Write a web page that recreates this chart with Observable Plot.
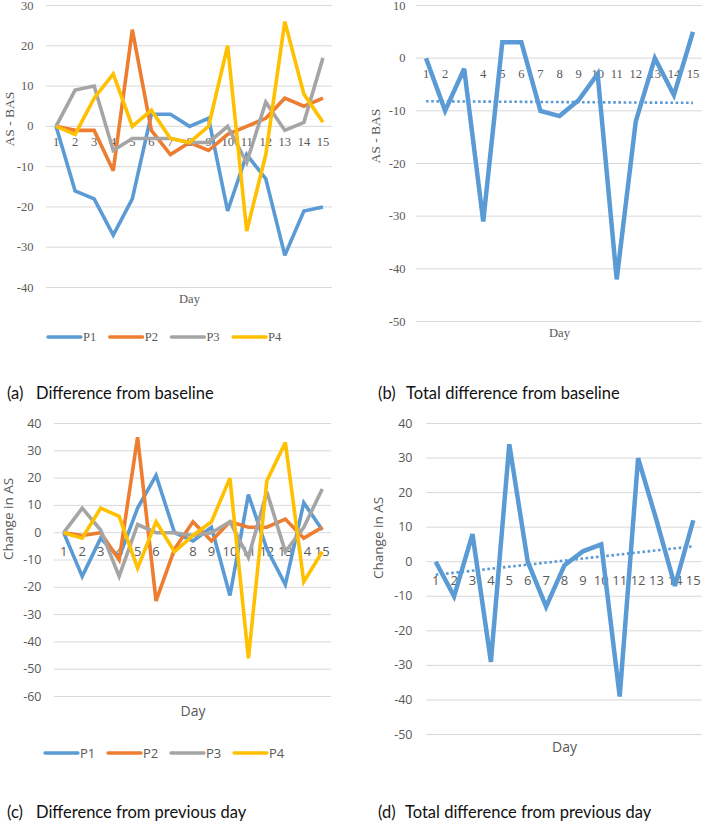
<!DOCTYPE html>
<html><head><meta charset="utf-8">
<script src="https://cdn.jsdelivr.net/npm/d3@7"></script>
<script src="https://cdn.jsdelivr.net/npm/@observablehq/plot@0.6"></script>
<style>
html,body{margin:0;padding:0;background:#fff;}
#root{position:relative;width:709px;height:822px;overflow:hidden;background:#fff;}
#root > svg{position:absolute;}
</style></head><body><div id="root"></div>
<script>
// ---- data ----
const days = [1,2,3,4,5,6,7,8,9,10,11,12,13,14,15];
const seriesNames = ["P1","P2","P3","P4"];
const seriesColors = ["#5B9BD5","#ED7D31","#A5A5A5","#FFC000"];

// (a) difference from baseline (AS - BAS)
const baseP1 = [0,-16,-18,-27,-18,3,3,0,2,-21,-7,-13,-32,-21,-20];
const baseP2 = [0,-1,-1,-11,24,-1,-7,-4,-6,-2,0,2,7,5,7];
const baseP3 = [0,9,10,-6,-3,-3,-3,-4,-4,0,-9,6,-1,1,17];
const baseP4 = [0,-2,7,13,0,4,-3,-4,0,20,-26,-7,26,8,1];
// (b) total difference from baseline
const baseTotal = [0,-10,-2,-31,3,3,-10,-11,-8,-3,-42,-12,0,-7,5];
// (c) difference from previous day
const prevP1 = [0,-16,-2,-9,9,21,0,-3,2,-23,14,-6,-19,11,1];
const prevP2 = [0,-1,0,-10,35,-25,-6,4,-3,4,2,2,5,-2,2];
const prevP3 = [0,9,1,-16,3,0,0,-1,0,4,-9,15,-7,2,16];
const prevP4 = [0,-2,9,6,-13,4,-7,-1,4,20,-46,19,33,-18,-7];
// (d) total difference from previous day
const prevTotal = [0,-10,8,-29,34,0,-13,-1,3,5,-39,30,12,-7,12];

const ticksA = [-40,-30,-20,-10,0,10,20,30];
const ticksB = [-50,-40,-30,-20,-10,0,10];
const ticksC = [-60,-50,-40,-30,-20,-10,0,10,20,30,40];
const ticksD = [-50,-40,-30,-20,-10,0,10,20,30,40];

const captions = [
  ["(a)", "Difference from baseline"],
  ["(b)", "Total difference from baseline"],
  ["(c)", "Difference from previous day"],
  ["(d)", "Total difference from previous day"]
];

// ---- helpers ----
function rows(names, arrays) {
  const out = [];
  names.forEach((n, i) => arrays[i].forEach((v, j) => out.push({series: n, day: days[j], value: v})));
  return out;
}

const root = document.getElementById("root");
const SERIF = "'Liberation Serif', 'Times New Roman', serif";
const SANS = "'Open Sans', sans-serif";

function panel(cfg) {
  const data = rows(cfg.names, cfg.arrays);
  const marks = [
    Plot.gridY(cfg.ticks, {stroke: "#d9d9d9", strokeOpacity: 1, strokeWidth: 1}),
    Plot.axisY(cfg.ticks, {tickSize: 0, tickPadding: cfg.tickPadding, tickFormat: d => String(d),
      fontSize: cfg.tickFont, label: null, fill: "#595959", fontFamily: cfg.font}),
    Plot.text(days, {x: d => d, y: () => 0, text: d => String(d), dy: cfg.xLabelDy,
      fontSize: cfg.xFont, fill: "#595959", lineAnchor: "middle", fontFamily: cfg.font}),
    Plot.text([cfg.yLabel], {frameAnchor: "left", rotate: -90, dx: cfg.yLabelDx,
      fontSize: cfg.yLabelFont, fill: "#595959", lineAnchor: "middle", fontFamily: cfg.font}),
    Plot.text(["Day"], {frameAnchor: "bottom", dy: cfg.dayDy, fontSize: cfg.dayFont,
      fill: "#595959", lineAnchor: "middle", fontFamily: cfg.font})
  ];
  if (cfg.trend) {
    marks.push(Plot.linearRegressionY(data, {x: "day", y: "value", ci: 0, stroke: seriesColors[0],
      strokeWidth: 2.6, strokeDasharray: "2.6,2.6", strokeLinecap: "butt"}));
  }
  marks.push(Plot.line(data, {x: "day", y: "value", z: "series", stroke: "series",
    strokeWidth: cfg.strokeWidth, strokeLinejoin: "miter", strokeMiterlimit: 3, strokeLinecap: "butt"}));
  const svg = Plot.plot({
    width: cfg.width, height: cfg.height,
    marginLeft: cfg.ml, marginRight: cfg.mr, marginTop: cfg.mt, marginBottom: cfg.mb,
    x: {type: "linear", domain: [0.5, 15.5], axis: null},
    y: {domain: cfg.yDomain, axis: null},
    color: {domain: seriesNames, range: seriesColors},
    style: {fontFamily: cfg.font, background: "transparent", overflow: "visible"},
    marks
  });
  svg.style.position = "absolute";
  svg.style.left = cfg.left + "px";
  svg.style.top = cfg.top + "px";
  svg.style.maxWidth = "none";
  root.appendChild(svg);
}

// (a)
panel({left: 0, top: 0, width: 355, height: 310, ml: 46, mr: 23, mt: 5, mb: 23,
  names: seriesNames, arrays: [baseP1, baseP2, baseP3, baseP4], yDomain: [-40, 30], ticks: ticksA,
  font: SERIF, tickFont: 12.5, tickPadding: 13, xFont: 12.5, xLabelDy: 16,
  yLabel: "AS - BAS", yLabelDx: -37, yLabelFont: 13.5, dayDy: 11, dayFont: 12.5, strokeWidth: 3.6});
// (b)
panel({left: 355, top: 0, width: 354, height: 340, ml: 61, mr: 7, mt: 5, mb: 19,
  names: ["P1"], arrays: [baseTotal], yDomain: [-50, 10], ticks: ticksB,
  font: SERIF, tickFont: 12.5, tickPadding: 11, xFont: 12.5, xLabelDy: 16,
  yLabel: "AS - BAS", yLabelDx: -41, yLabelFont: 13.5, dayDy: 11, dayFont: 12.5, strokeWidth: 4.5, trend: true});
// (c)
panel({left: 0, top: 410, width: 355, height: 320, ml: 54, mr: 24, mt: 13, mb: 34,
  names: seriesNames, arrays: [prevP1, prevP2, prevP3, prevP4], yDomain: [-60, 40], ticks: ticksC,
  font: SANS, tickFont: 12.5, tickPadding: 13, xFont: 13, xLabelDy: 19,
  yLabel: "Change in AS", yLabelDx: -46, yLabelFont: 13.5, dayDy: 15, dayFont: 14, strokeWidth: 3.6});
// (d)
panel({left: 355, top: 410, width: 354, height: 345, ml: 71, mr: 7, mt: 13, mb: 21,
  names: ["P1"], arrays: [prevTotal], yDomain: [-50, 40], ticks: ticksD,
  font: SANS, tickFont: 12.5, tickPadding: 14, xFont: 13, xLabelDy: 19,
  yLabel: "Change in AS", yLabelDx: -48, yLabelFont: 13.5, dayDy: 13, dayFont: 14, strokeWidth: 4.5, trend: true});

// ---- legends and captions overlay ----
const ov = d3.select(root).append("svg")
  .attr("width", 709).attr("height", 822)
  .style("left", "0px").style("top", "0px").style("pointer-events", "none");

function legend(y, x0, step, font, fontSize) {
  const g = ov.append("g");
  seriesNames.forEach((n, i) => {
    const x = x0 + i * step;
    g.append("line").attr("x1", x).attr("x2", x + 33).attr("y1", y).attr("y2", y)
      .attr("stroke", seriesColors[i]).attr("stroke-width", 3.3).attr("stroke-linecap", "round");
    g.append("text").attr("x", x + 35).attr("y", y).attr("dy", "0.35em")
      .attr("font-family", font).attr("font-size", fontSize).attr("fill", "#595959").text(n);
  });
}
legend(337, 48, 61.7, SERIF, 12.5);
legend(753, 45, 63, SANS, 13);

const capPos = [[7, 36, 399], [378, 406, 399], [7, 36, 818], [378, 405, 818]];
captions.forEach((c, i) => {
  const [xp, xt, yb] = capPos[i];
  ov.append("text").attr("x", xp).attr("y", yb).attr("font-family", "Lato, sans-serif")
    .attr("font-size", 16.5).attr("fill", "#111").text(c[0]);
  ov.append("text").attr("x", xt).attr("y", yb).attr("font-family", "Lato, sans-serif")
    .attr("font-size", 16.5).attr("fill", "#111").text(c[1]);
});
</script>
</body></html>
